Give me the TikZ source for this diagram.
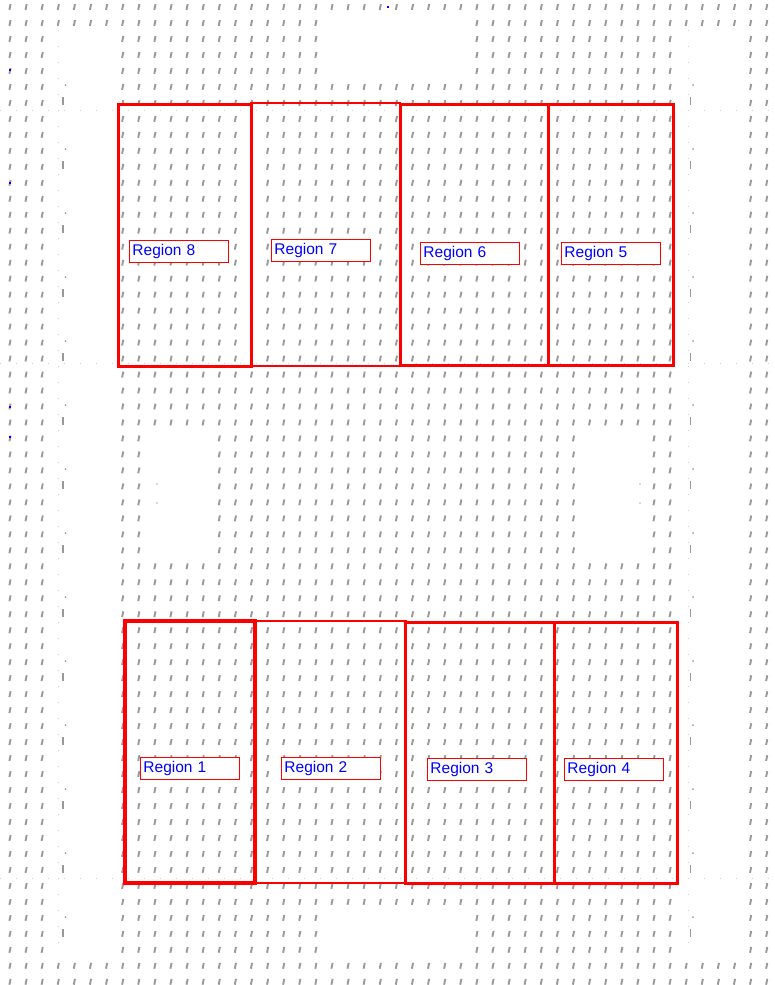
\documentclass[tikz,border=0pt]{standalone}
\usepackage{fontspec}
\setmainfont{Liberation Sans}

\begin{document}
\begin{tikzpicture}[
  x=1pt, y=-1pt,
  font=\fontsize{15.5}{18}\selectfont,
  tick/.style={draw=black!40, line width=1.9pt},
  guide/.style={draw=black!18, line width=0.8pt, dash pattern=on 1pt off 15pt},
  region/.style={draw=red, line width=3pt, inner sep=0pt},
  thinregion/.style={region, line width=2pt},
  lbl/.style={draw=red, line width=0.9pt, fill=white, text=blue, text width=93pt, inner xsep=3pt, inner ysep=0pt, minimum height=22pt, align=left, anchor=north west}
]
\useasboundingbox (0,0) rectangle (775,985);

% Background marks
\foreach \i in {0,...,47}{
  \foreach \j in {0,...,61}{
    \pgfmathsetmacro\mx{10+16.1*\i}
    \pgfmathsetmacro\my{7+15.98*\j}
    \pgfmathtruncatemacro\blank{(\mx>50)*(\mx<118)*(\my>30)*(\my<955)
      + (\mx>680)*(\mx<748)*(\my>30)*(\my<955)
      + (\mx>325)*(\mx<468)*(\my>15)*(\my<80)
      + (\mx>325)*(\mx<468)*(\my>910)*(\my<958)
      + (\mx>145)*(\mx<210)*(\my>430)*(\my<558)
      + (\mx>580)*(\mx<645)*(\my>430)*(\my<558)}
    \ifnum\blank=0
      \draw[tick] (\mx-0.6,\my+2.9) -- (\mx+0.6,\my-2.9);
    \fi
  }
}

% Faint guides
\draw[guide] (0,110) -- (775,110);
\draw[guide] (0,363) -- (775,363);
\draw[guide] (0,878) -- (775,878);
\draw[guide] (58,30) -- (58,955);
\draw[guide] (688,30) -- (688,955);
\foreach \k in {0,...,13}{
  \pgfmathsetmacro\ky{85+64*\k}
  \fill[black!40] (65.5,\ky) circle (1pt);
  \draw[black!40, line width=1.2pt] (63,\ky+12) -- (63,\ky+20);
  \fill[black!40] (693,\ky) circle (1pt);
  \draw[black!40, line width=1.2pt] (690.5,\ky+12) -- (690.5,\ky+20);
}
\foreach \px/\py in {157/484, 157/503, 640/484, 640/503}
  \fill[black!30] (\px,\py) circle (0.9pt);
\foreach \px/\py in {10/70, 10/183, 10/407, 10/437, 388/7}
  \fill[blue] (\px-1.2,\py-1.2) rectangle (\px+1.2,\py+1.2);

% Upper regions
\node[thinregion, minimum width=149, minimum height=262.7] (r7) at (325.5,234.65) {};
\node[region, minimum width=132.7, minimum height=262] (r8) at (184.65,235) {};
\node[region, minimum width=148.3, minimum height=260.3] (r6) at (474.15,234.85) {};
\node[region, minimum width=125.4, minimum height=260.3] (r5) at (611,234.85) {};

% Lower regions
\node[thinregion, minimum width=150.2, minimum height=262.3] (r2) at (330.4,752.15) {};
\node[region, minimum width=130.8, minimum height=262.3, line width=4pt] (r1) at (189.9,752.15) {};
\node[region, minimum width=148.8, minimum height=261.3] (r3) at (479.9,752.65) {};
\node[region, minimum width=123.4, minimum height=261.3] (r4) at (616,752.65) {};

% Labels
\node[lbl] (l8) at (129,240) {Region 8};
\node[lbl] (l7) at (271,239) {Region 7};
\node[lbl] (l6) at (420,242) {Region 6};
\node[lbl] (l5) at (561,242) {Region 5};
\node[lbl] (l1) at (140,757) {Region 1};
\node[lbl] (l2) at (281,757) {Region 2};
\node[lbl] (l3) at (427,758) {Region 3};
\node[lbl] (l4) at (564,758) {Region 4};

\end{tikzpicture}
\end{document}
